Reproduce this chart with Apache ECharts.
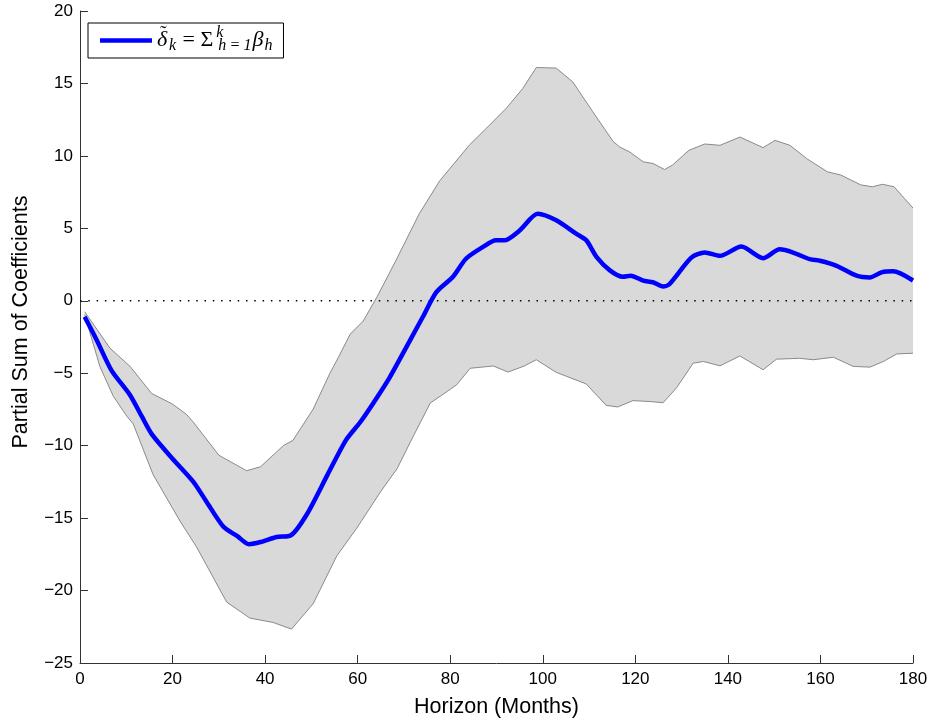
<!DOCTYPE html>
<html>
<head>
<meta charset="utf-8">
<script src="https://cdn.jsdelivr.net/npm/echarts@6/dist/echarts.min.js"></script>
<style>
html,body{margin:0;padding:0;background:#fff;}
#main{width:932px;height:723px;}
</style>
</head>
<body>
<div id="main"></div>
<script>
// ---- data ----
var meanMonths = [1,3.6,6.8,10.8,13.3,15.5,20,24.5,27.3,31,34,36.5,39,42.5,45.5,49,53.5,57.5,60.5,63.4,66.9,71.2,74.1,77,80.6,83.4,87,89.9,91.7,95,98.9,102.9,107.2,109.4,111.6,114.5,117.3,119,121.7,123.8,126,127.4,132.1,135,138.3,142.9,147.6,151.2,154.1,157.7,159.9,163.5,167.8,170.7,173.2,175.7,180];
var meanValues = [-1.1,-2.7,-4.8,-6.5,-7.95,-9.2,-10.9,-12.5,-13.85,-15.6,-16.25,-16.8,-16.65,-16.3,-16.2,-14.75,-12.0,-9.6,-8.4,-7.05,-5.3,-2.8,-1.1,0.6,1.66,2.9,3.7,4.17,4.17,4.85,6.0,5.55,4.63,4.17,3.03,2.1,1.66,1.73,1.39,1.28,0.98,1.16,2.98,3.33,3.1,3.74,2.94,3.55,3.33,2.87,2.76,2.41,1.73,1.61,1.96,2.03,1.4];

var upperMonths = [1,6.5,10.8,15.5,20,23,24.5,30,36,39,44,46,50.4,54,55.4,58.4,61.2,64.2,68.3,73.3,77.7,84.2,87.8,92.1,95.7,98.6,102.9,106.5,110.8,115.2,116.6,118.8,121.7,123.8,126.3,128,131.6,135,138.3,142.6,147.6,150.2,153.4,157,161.5,164.4,168.7,171.2,173.4,175.9,178.1,180];
var upperValues = [-0.75,-3.28,-4.52,-6.4,-7.13,-7.84,-8.38,-10.66,-11.73,-11.46,-9.98,-9.64,-7.47,-5.0,-4.17,-2.3,-1.4,0.28,2.8,6.0,8.27,10.77,11.9,13.28,14.66,16.1,16.06,15.1,13.05,11.0,10.62,10.27,9.59,9.48,9.06,9.36,10.39,10.82,10.73,11.3,10.57,11.07,10.73,9.82,8.9,8.68,8.0,7.87,8.04,7.87,7.08,6.4];

var lowerMonths = [1,4.3,7.2,10.1,11.5,15.8,21.6,25.2,31.7,36.7,41.7,45.7,50.4,55.5,59.8,64.9,68.5,71.3,75.7,77.8,81.4,84.3,89.3,92.5,96,98.6,102.9,109.4,113.7,116.2,119.5,123.8,126,128.9,132.5,134.7,138.3,142.6,147.6,150.5,155.5,158.4,162.8,167.1,170.7,173.6,176.5,180];
var lowerValues = [-0.95,-4.54,-6.59,-7.96,-8.5,-12.0,-15.2,-17.0,-20.8,-21.9,-22.2,-22.66,-20.9,-17.6,-15.7,-13.2,-11.6,-9.8,-7.05,-6.6,-5.8,-4.66,-4.5,-4.92,-4.5,-4.07,-4.94,-5.74,-7.22,-7.33,-6.89,-6.97,-7.04,-6.01,-4.31,-4.19,-4.49,-3.81,-4.76,-4.03,-3.97,-4.07,-3.9,-4.53,-4.58,-4.19,-3.67,-3.62];

var zeroMonths = [0, 180];
var zeroValues = [0, 0];

var xTicks = [0,20,40,60,80,100,120,140,160,180];
var yTicks = [-25,-20,-15,-10,-5,0,5,10,15,20];

var seriesName = 'delta';
var xName = 'Horizon (Months)';
var yName = 'Partial Sum of Coefficients';

// ---- helpers ----
function pairs(xs, ys){ return xs.map(function(x,i){ return [x, ys[i]]; }); }
var upperData = pairs(upperMonths, upperValues);
var lowerData = pairs(lowerMonths, lowerValues);

var chart = echarts.init(document.getElementById('main'), null, {renderer:'canvas'});
var sans = 'Liberation Sans, Arial, Helvetica, sans-serif';
var serif = 'Liberation Serif, DejaVu Serif, serif';
var dserif = 'DejaVu Serif, Liberation Serif, serif';

var option = {
  animation: false,
  backgroundColor: '#fff',
  grid: {left: 80, right: 19, top: 11, bottom: 53.5, containLabel: false},
  xAxis: {
    type: 'value', min: 0, max: 180, interval: 20,
    name: xName, nameLocation: 'middle', nameGap: 33,
    nameTextStyle: {fontFamily: sans, fontSize: 21.5, color: '#000'},
    axisLine: {show: true, onZero: false, lineStyle: {color: '#333', width: 1}},
    axisTick: {show: true, inside: true, length: 8, lineStyle: {color: '#333'}},
    axisLabel: {fontFamily: sans, fontSize: 17, color: '#000', margin: 8,
      formatter: function(v){ return xTicks.indexOf(v) >= 0 ? String(v) : ''; }},
    splitLine: {show: false}
  },
  yAxis: {
    type: 'value', min: -25, max: 20, interval: 5,
    name: yName, nameLocation: 'middle', nameGap: 48, nameRotate: 90,
    nameTextStyle: {fontFamily: sans, fontSize: 21.5, color: '#000', padding: [0, 0, 0, 30]},
    axisLine: {show: true, onZero: false, lineStyle: {color: '#333', width: 1}},
    axisTick: {show: true, inside: true, length: 8, lineStyle: {color: '#333'}},
    axisLabel: {fontFamily: sans, fontSize: 17, color: '#000', margin: 7,
      formatter: function(v){ return yTicks.indexOf(v) >= 0 ? String(v).replace('-', '\u2212') : ''; }},
    splitLine: {show: false}
  },
  legend: {
    show: true,
    data: [{name: seriesName, icon: 'rect'}],
    left: 88, top: 23,
    orient: 'horizontal',
    backgroundColor: '#fff',
    borderColor: '#000', borderWidth: 1, borderRadius: 0,
    padding: [2, 11, 2, 12],
    itemWidth: 52, itemHeight: 4.5,
    selectedMode: false,
    formatter: function(){
      return '{d|\u03B4}{tl|\u02DC}{ds|k}{eq| = \u03A3}{sp|k}{sb|h\u2009=\u20091}{b|\u03B2}{bs|h}';
    },
    textStyle: {
      color: '#000',
      rich: {
        d: {fontFamily: serif, fontStyle: 'italic', fontSize: 22, lineHeight: 31, verticalAlign: 'middle', width: 2},
        tl: {fontFamily: serif, fontSize: 20, lineHeight: 31, verticalAlign: 'top', width: 9, padding: [0,0,0,1]},
        ds: {fontFamily: serif, fontStyle: 'italic', fontSize: 16, lineHeight: 31, verticalAlign: 'bottom', padding: [0,0,2,0]},
        eq: {fontFamily: serif, fontSize: 22, lineHeight: 31, verticalAlign: 'middle', padding: [0,1,0,1]},
        sp: {fontFamily: serif, fontStyle: 'italic', fontSize: 16, lineHeight: 31, verticalAlign: 'top', width: 1, padding: [0,0,0,2]},
        sb: {fontFamily: serif, fontStyle: 'italic', fontSize: 16, lineHeight: 31, verticalAlign: 'bottom', padding: [0,1,2,1]},
        b: {fontFamily: serif, fontStyle: 'italic', fontSize: 22, lineHeight: 31, verticalAlign: 'middle'},
        bs: {fontFamily: serif, fontStyle: 'italic', fontSize: 16, lineHeight: 31, verticalAlign: 'bottom', padding: [0,0,2,1]}
      }
    }
  },
  series: [
    {
      name: 'band', type: 'custom', coordinateSystem: 'cartesian2d', z: 1,
      data: upperData, silent: true,
      encode: {x: 0, y: 1},
      renderItem: function(params, api){
        if (params.dataIndex !== 0) return null;
        var pts = [];
        upperData.forEach(function(p){ pts.push(api.coord(p)); });
        for (var i = lowerData.length - 1; i >= 0; i--) pts.push(api.coord(lowerData[i]));
        return {type: 'polygon', shape: {points: pts}, style: {fill: '#d9d9d9', stroke: null}};
      }
    },
    {
      name: 'upper', type: 'line', data: upperData, z: 2, symbol: 'none', silent: true,
      lineStyle: {color: '#8a8a8a', width: 1}
    },
    {
      name: 'lower', type: 'line', data: lowerData, z: 2, symbol: 'none', silent: true,
      lineStyle: {color: '#8a8a8a', width: 1}
    },
    {
      name: 'zero', type: 'line', data: pairs(zeroMonths, zeroValues), z: 3, symbol: 'none', silent: true,
      lineStyle: {color: '#000', width: 1.4, type: [1.5, 6.8]}
    },
    {
      name: seriesName, type: 'line', data: pairs(meanMonths, meanValues), z: 5,
      symbol: 'none', smooth: 0.25,
      lineStyle: {color: '#0000ff', width: 4.5}, itemStyle: {color: '#0000ff'}
    }
  ]
};
chart.setOption(option);
</script>
</body>
</html>
